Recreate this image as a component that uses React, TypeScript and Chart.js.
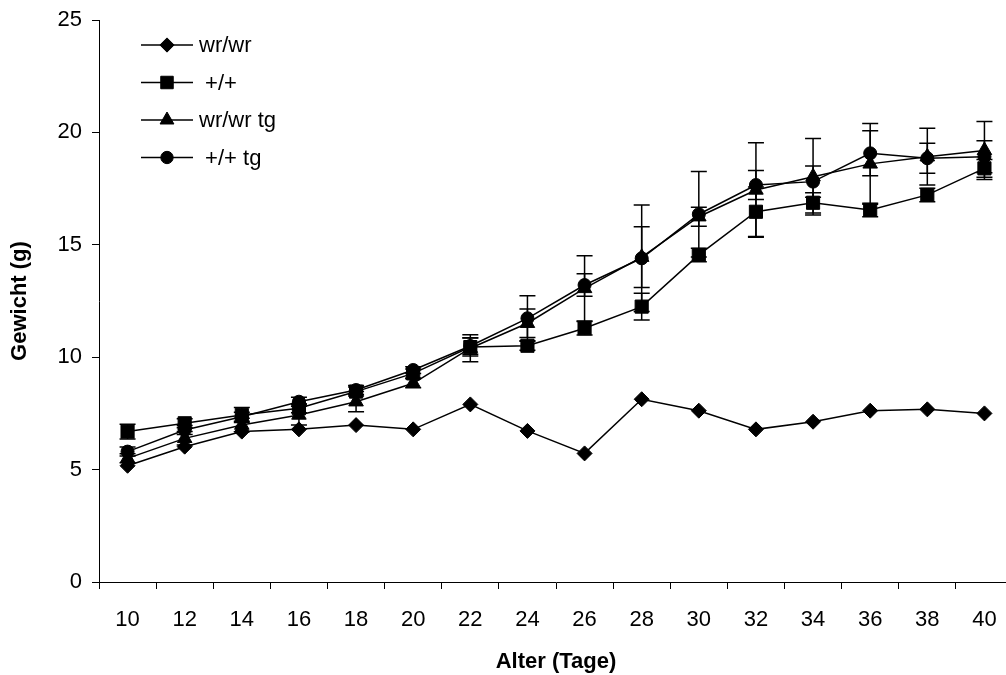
import React, { useEffect, useRef } from 'react';
import { Chart, registerables } from 'chart.js';

Chart.register(...registerables);

// Alter (Tage)
const days = ['10', '12', '14', '16', '18', '20', '22', '24', '26', '28', '30', '32', '34', '36', '38', '40'];

// Series names (legend)
const seriesNames = ['wr/wr', ' +/+', 'wr/wr tg', ' +/+ tg'];

// Gewicht (g)
const wrwr = [5.17, 6.02, 6.69, 6.79, 6.98, 6.79, 7.9, 6.72, 5.72, 8.13, 7.62, 6.79, 7.13, 7.62, 7.68, 7.5];
const plusPlus = [6.69, 7.06, 7.43, 7.73, 8.47, 9.28, 10.45, 10.51, 11.29, 12.25, 14.55, 16.47, 16.87, 16.55, 17.22, 18.4];
const plusPlusErr = [0.33, 0.2, 0.33, 0.2, 0.2, 0.2, 0.4, 0.2, 0.3, 0.6, 0.3, 1.1, 0.45, 0.3, 0.3, 0.4];
const wrwrTg = [5.5, 6.39, 6.98, 7.43, 8.02, 8.84, 10.4, 11.51, 13.06, 14.45, 16.25, 17.44, 18.03, 18.6, 18.92, 19.2];
const wrwrTgErr = [0.2, 0.3, 0.3, 0.45, 0.45, 0.2, 0.6, 0.63, 1.45, 1.35, 0.42, 2.1, 1.7, 1.8, 1.26, 1.29];
const plusPlusTg = [5.8, 6.76, 7.35, 8.02, 8.54, 9.43, 10.5, 11.73, 13.21, 14.4, 16.36, 17.66, 17.81, 19.07, 18.85, 18.92];
const plusPlusTgErr = [0.2, 0.2, 0.2, 0.2, 0.2, 0.15, 0.37, 1.0, 0.5, 2.37, 1.9, 0.65, 0.7, 1.0, 0.67, 0.71];

const yTitle = 'Gewicht (g)';
const xTitle = 'Alter (Tage)';

const FONT = "Arial, 'Liberation Sans', sans-serif";

const styles = ['rectRot', 'rect', 'triangle', 'circle'];
const radii = [7.5, 9.3, 8.4, 6.5];

function drawMarker(ctx: CanvasRenderingContext2D, style: string, x: number, y: number, r: number) {
  ctx.beginPath();
  if (style === 'rectRot') {
    ctx.moveTo(x - r, y);
    ctx.lineTo(x, y - r);
    ctx.lineTo(x + r, y);
    ctx.lineTo(x, y + r);
    ctx.closePath();
  } else if (style === 'rect') {
    const s = Math.SQRT1_2 * r;
    ctx.rect(x - s, y - s, 2 * s, 2 * s);
  } else if (style === 'triangle') {
    const a = (2 * Math.PI) / 3;
    ctx.moveTo(x, y - r);
    ctx.lineTo(x + Math.sin(a) * r, y - Math.cos(a) * r);
    ctx.lineTo(x + Math.sin(2 * a) * r, y - Math.cos(2 * a) * r);
    ctx.closePath();
  } else {
    ctx.arc(x, y, r, 0, Math.PI * 2);
  }
  ctx.fill();
  ctx.stroke();
}

const errorBarPlugin = {
  id: 'errorBars',
  afterDatasetsDraw(chart: any) {
    const ctx = chart.ctx;
    const ys = chart.scales.y;
    chart.data.datasets.forEach((ds: any, i: number) => {
      const errs = ds.errors;
      if (!errs) return;
      const meta = chart.getDatasetMeta(i);
      meta.data.forEach((pt: any, j: number) => {
        const e = errs[j];
        if (!e) return;
        const v = ds.data[j];
        const yTop = ys.getPixelForValue(v + e);
        const yBot = ys.getPixelForValue(v - e);
        ctx.save();
        ctx.strokeStyle = '#000';
        ctx.lineWidth = 1.5;
        ctx.beginPath();
        ctx.moveTo(pt.x, yTop);
        ctx.lineTo(pt.x, yBot);
        ctx.moveTo(pt.x - 8, yTop);
        ctx.lineTo(pt.x + 8, yTop);
        ctx.moveTo(pt.x - 8, yBot);
        ctx.lineTo(pt.x + 8, yBot);
        ctx.stroke();
        ctx.restore();
      });
    });
  },
};

const legendPlugin = {
  id: 'excelLegend',
  afterDraw(chart: any) {
    const ctx = chart.ctx;
    const x0 = 141;
    const x1 = 193;
    const y0 = 45;
    const dy = 37.5;
    ctx.save();
    chart.data.datasets.forEach((ds: any, i: number) => {
      const y = y0 + i * dy;
      ctx.strokeStyle = '#000';
      ctx.lineWidth = 1.5;
      ctx.beginPath();
      ctx.moveTo(x0, y);
      ctx.lineTo(x1, y);
      ctx.stroke();
      ctx.fillStyle = '#000';
      ctx.lineWidth = 1;
      drawMarker(ctx, styles[i], (x0 + x1) / 2, y, radii[i] * 0.95);
      ctx.font = `22px ${FONT}`;
      ctx.textBaseline = 'middle';
      ctx.textAlign = 'left';
      ctx.fillText(ds.label, 199, y + 1);
    });
    ctx.restore();
  },
};

export default function App() {
  const canvasRef = useRef<HTMLCanvasElement | null>(null);

  useEffect(() => {
    if (!canvasRef.current) return;
    const series = [
      { data: wrwr, errors: null },
      { data: plusPlus, errors: plusPlusErr },
      { data: wrwrTg, errors: wrwrTgErr },
      { data: plusPlusTg, errors: plusPlusTgErr },
    ];
    const chart = new Chart(canvasRef.current, {
      type: 'line',
      data: {
        labels: days,
        datasets: series.map((s, i) => ({
          label: seriesNames[i],
          data: s.data,
          errors: s.errors,
          borderColor: '#000',
          borderWidth: 1.5,
          backgroundColor: '#000',
          pointStyle: styles[i],
          pointRadius: radii[i],
          pointBackgroundColor: '#000',
          pointBorderColor: '#000',
          pointBorderWidth: 1,
          tension: 0,
          fill: false,
          clip: false,
        })) as any,
      },
      options: {
        animation: false,
        responsive: false,
        devicePixelRatio: 1,
        layout: { autoPadding: false, padding: { top: 20, right: 1, left: 0, bottom: 0 } },
        plugins: { legend: { display: false }, tooltip: { enabled: false } },
        scales: {
          x: {
            type: 'category',
            offset: true,
            grid: { offset: true, drawOnChartArea: false, drawTicks: true, tickLength: 7, color: '#000', lineWidth: 1 },
            border: { display: true, color: '#000', width: 1 },
            ticks: { color: '#000', font: { family: FONT, size: 22 }, padding: 18, maxRotation: 0, autoSkip: false },
            title: {
              display: true,
              text: xTitle,
              color: '#000',
              font: { family: FONT, size: 22, weight: 'bold' },
              padding: { top: 0, bottom: 0 },
            },
            afterFit: (s: any) => {
              s.height = 93;
              s.paddingLeft = 0;
              s.paddingRight = 0;
            },
          },
          y: {
            min: 0,
            max: 25,
            grid: { drawOnChartArea: false, drawTicks: true, tickLength: 7, color: '#000', lineWidth: 1 },
            border: { display: true, color: '#000', width: 1 },
            ticks: { stepSize: 5, color: '#000', font: { family: FONT, size: 22 }, padding: 10 },
            title: {
              display: true,
              text: yTitle,
              color: '#000',
              font: { family: FONT, size: 22, weight: 'bold' },
              padding: { top: 7, bottom: 0 },
            },
            afterFit: (s: any) => {
              s.width = 99;
              s.paddingTop = 0;
              s.paddingBottom = 0;
            },
          },
        },
      } as any,
      plugins: [errorBarPlugin, legendPlugin],
    });
    return () => chart.destroy();
  }, []);

  return (
    <div
      style={{
        position: 'absolute',
        left: 0,
        top: 0,
        width: 1006,
        height: 675,
        overflow: 'hidden',
        background: '#fff',
      }}
    >
      <canvas ref={canvasRef} width={1014} height={675} style={{ display: 'block' }} />
    </div>
  );
}
